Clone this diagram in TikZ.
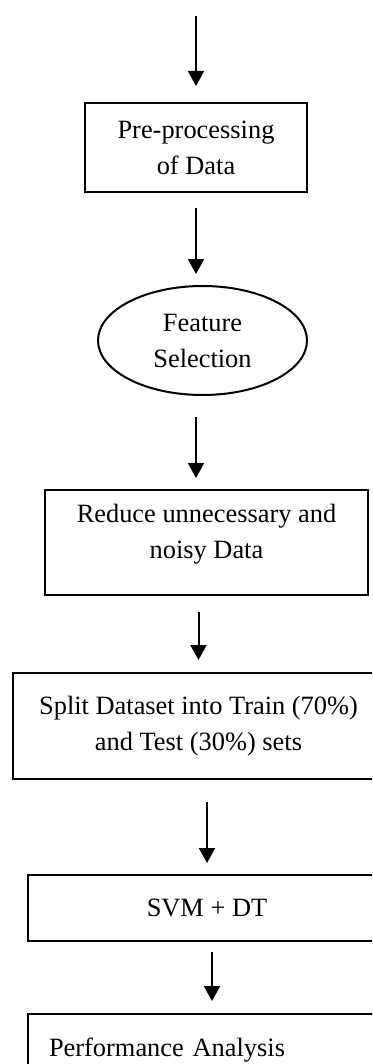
\documentclass[tikz,border=0pt]{standalone}
\usepackage{fontspec}
\setmainfont{Liberation Serif}
\usetikzlibrary{arrows.meta, positioning, shapes}

\begin{document}
\begin{tikzpicture}[
    x=0.5pt, y=-0.5pt,
    font=\fontsize{13.2}{18}\selectfont,
    >={Triangle[length=7.5pt, width=8pt]},
    line width=1pt,
    block/.style={rectangle, draw, inner sep=0pt, align=center},
    oval/.style={ellipse, draw, inner sep=0pt, align=center},
    input/.style={coordinate}
]
\useasboundingbox (0,0) rectangle (372,1064);
\clip (0,0) rectangle (372,1064);
% Nodes
\node [input] (data-in) at (196,16) {};
\node [block, minimum width=111pt, minimum height=44.5pt] (pre-proc) at (196,147.5) {Pre-processing\\of Data};
\node [oval, minimum width=104.5pt, minimum height=54.5pt, below=46pt of pre-proc, xshift=3.25pt] (feat-sel) {Feature\\Selection};
\node [block, minimum width=161.5pt, minimum height=52.5pt, text depth=11pt, below=46.5pt of feat-sel, xshift=2pt] (reduce) {Reduce unnecessary and\\noisy Data};
\node [block, minimum width=185.5pt, minimum height=53pt, below=38pt of reduce, xshift=-4pt] (split) {Split Dataset into Train (70\%)\\and Test (30\%) sets};
\node [block, minimum width=179pt, minimum height=33pt, below=47pt of split, xshift=4.25pt] (svm-dt) {SVM + DT};
\node [block, align=left, text width=158pt, inner xsep=10.5pt, minimum height=36pt, below=35.5pt of svm-dt] (perf) {Performance Analysis};

% Arrows
\draw[->, shorten >=8pt] (data-in) -- (pre-proc);
\draw[->, shorten <=7.5pt, shorten >=5.5pt] (pre-proc.south) -- (pre-proc.south |- feat-sel.north);
\draw[->, shorten <=10.5pt, shorten >=5.5pt] (pre-proc.south |- feat-sel.south) -- (pre-proc.south |- reduce.north);
\draw[->, shorten <=8pt, shorten >=6pt] (split.north |- reduce.south) -- (split.north);
\draw[->, shorten <=11pt, shorten >=5.5pt] (svm-dt.north |- split.south) -- (svm-dt.north);
\draw[->, shorten <=5pt, shorten >=6pt] ([xshift=2.5pt]svm-dt.south) -- ([xshift=2.5pt]svm-dt.south |- perf.north);
\end{tikzpicture}
\end{document}
